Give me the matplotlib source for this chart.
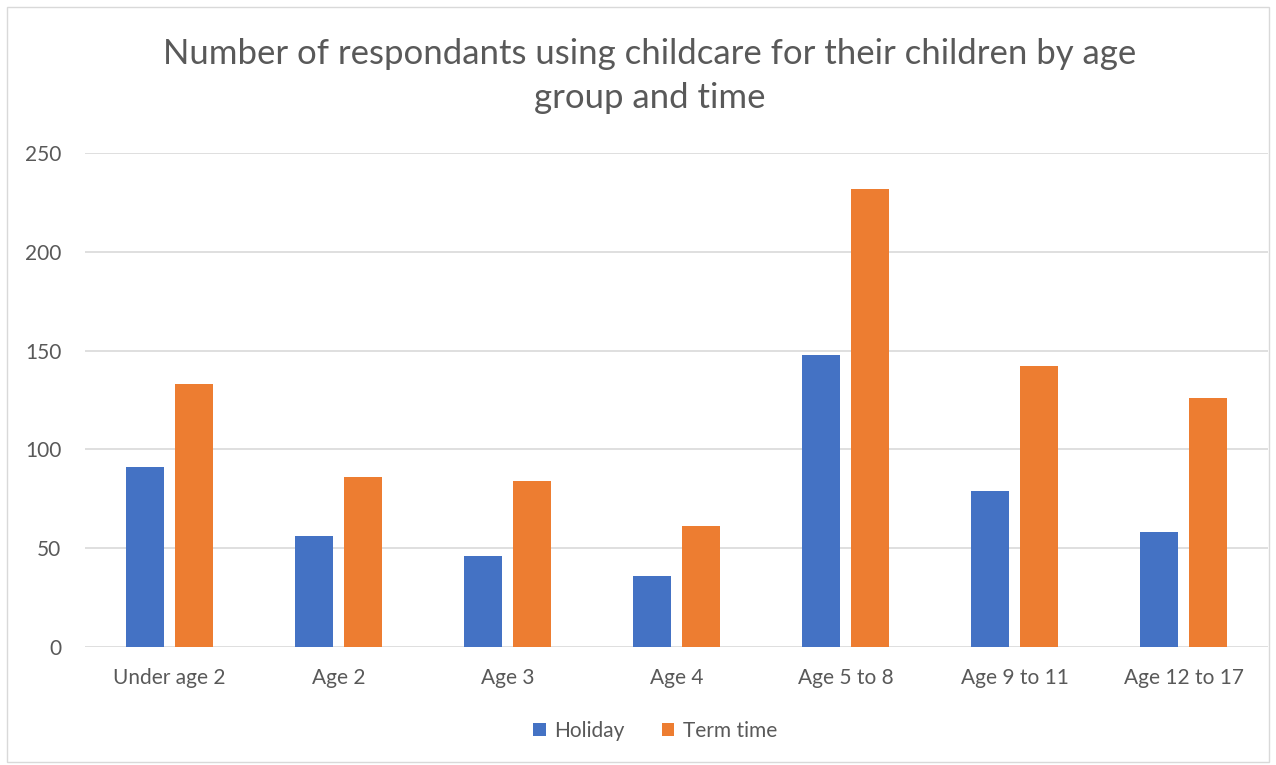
import matplotlib
matplotlib.use("Agg")
import matplotlib.pyplot as plt
import numpy as np
from matplotlib.patches import Rectangle

categories = ["Under age 2", "Age 2", "Age 3", "Age 4", "Age 5 to 8", "Age 9 to 11", "Age 12 to 17"]
holiday = [91, 56, 46, 36, 148, 79, 58]
term_time = [133, 86, 84, 61, 232, 142, 126]
yticks = [0, 50, 100, 150, 200, 250]

plt.rcParams['font.family'] = ['Lato', 'DejaVu Sans']
text_color = '#595959'

fig = plt.figure(figsize=(12.76, 7.65), dpi=100)
ax = fig.add_axes([85/1276, 118/765, 1183/1276, 494/765])

x = np.arange(len(categories))
w = 0.225
off = 0.145
ax.bar(x - off, holiday, w, color='#4472C4', label='Holiday', zorder=3)
ax.bar(x + off, term_time, w, color='#ED7D31', label='Term time', zorder=3)

ax.set_xlim(-0.5, len(categories) - 0.5)
ax.set_ylim(0, 250)
ax.set_yticks(yticks)
ax.set_xticks(x)
ax.set_xticklabels(categories)
ax.yaxis.grid(True, color='#d9d9d9', linewidth=1.2, zorder=0)
ax.set_axisbelow(True)
for s in ax.spines.values():
    s.set_visible(False)
ax.tick_params(axis='both', length=0, colors=text_color, labelsize=15)
ax.tick_params(axis='y', pad=17)
ax.tick_params(axis='x', pad=15)

fig.text(650/1276, 1 - 76/765,
         "Number of respondants using childcare for their children by age\ngroup and time",
         ha='center', va='center', fontsize=25, color=text_color, linespacing=1.48)

fig.legend(loc='center', bbox_to_anchor=(655/1276, 1 - 731/765), ncol=2, frameon=False,
           fontsize=15, labelcolor=text_color, handlelength=0.6, handleheight=0.6,
           handletextpad=0.4, columnspacing=1.8)

fig.patches.append(Rectangle((7/1276, 3/765), 1262/1276, 755/765, transform=fig.transFigure,
                             fill=False, edgecolor='#d9d9d9', linewidth=1))

fig.savefig("out.png", dpi=100)
